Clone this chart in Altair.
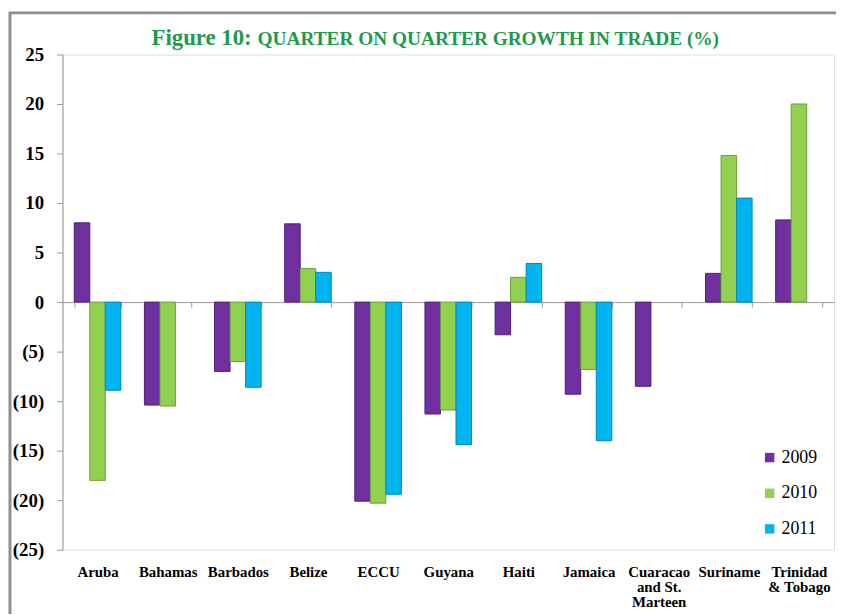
import altair as alt
import pandas as pd

categories = ["Aruba", "Bahamas", "Barbados", "Belize", "ECCU", "Guyana", "Haiti",
              "Jamaica", "Cuaracao and St. Marteen", "Suriname", "Trinidad & Tobago"]
years = ["2009", "2010", "2011"]
v2009 = [8.0, -10.4, -7.0, 7.9, -20.1, -11.3, -3.3, -9.3, -8.5, 2.9, 8.3]
v2010 = [-18.0, -10.5, -6.0, 3.4, -20.3, -10.9, 2.5, -6.8, None, 14.8, 20.0]
v2011 = [-8.9, None, -8.6, 3.0, -19.4, -14.4, 3.9, -14.0, None, 10.5, None]
y_ticks = [-25, -20, -15, -10, -5, 0, 5, 10, 15, 20, 25]
title_lead = "Figure 10:"
title_rest = "QUARTER ON QUARTER GROWTH IN TRADE (%)"

colors = ["#7030A0", "#92D050", "#00B4F0"]
strokes = ["#4f1f75", "#6f9e3a", "#0088b8"]

rows = []
for yr, vals in zip(years, [v2009, v2010, v2011]):
    for c, v in zip(categories, vals):
        if v is not None:
            rows.append({"country": c, "year": yr, "value": v})
df = pd.DataFrame(rows)

FONT = "Liberation Serif"
W, H = 779, 500

label_expr = (
    "datum.label == 'Cuaracao and St. Marteen' ? ['Cuaracao', 'and St.', 'Marteen'] : "
    "datum.label == 'Trinidad & Tobago' ? ['Trinidad', '& Tobago'] : datum.label"
)

bars = alt.Chart(df).mark_bar(strokeWidth=1).encode(
    x=alt.X("country:N", sort=categories,
            scale=alt.Scale(paddingInner=0.336, paddingOuter=0.168),
            axis=alt.Axis(title=None, orient="bottom", offset=-H / 2,
                          domainColor="#9a9a9a", tickColor="#9a9a9a",
                          tickSize=5, tickBand="extent", labelAngle=0,
                          labelPadding=260, labelFont=FONT, labelFontSize=15,
                          labelFontWeight="bold", labelColor="#000000",
                          labelLineHeight=15, labelExpr=label_expr,
                          labelBaseline="top")),
    xOffset=alt.XOffset("year:N", scale=alt.Scale(domain=years, paddingInner=0, paddingOuter=0)),
    y=alt.Y("value:Q", scale=alt.Scale(domain=[-25, 25], nice=False),
            axis=alt.Axis(title=None, values=y_ticks, grid=False,
                          domainColor="#9a9a9a", tickColor="#9a9a9a", tickSize=6,
                          labelPadding=13, labelFont=FONT, labelFontSize=19,
                          labelFontWeight="bold", labelColor="#000000",
                          labelExpr="datum.value < 0 ? '(' + abs(datum.value) + ')' : '' + datum.value")),
    color=alt.Color("year:N", scale=alt.Scale(domain=years, range=colors),
                    legend=alt.Legend(title=None, orient="none", legendX=705, legendY=398,
                                      direction="vertical", symbolType="square",
                                      symbolSize=90, symbolStrokeWidth=0,
                                      labelFont=FONT, labelFontSize=18,
                                      labelColor="#000000", labelOffset=3,
                                      rowPadding=18, padding=0)),
    stroke=alt.Stroke("year:N", scale=alt.Scale(domain=years, range=strokes), legend=None),
)

one = alt.Data(values=[{}])

frame = alt.Chart(one).mark_rect(fill=None, stroke="#8f8f8f", strokeWidth=3).encode(
    x=alt.value(-53), x2=alt.value(W + 30), y=alt.value(-42), y2=alt.value(H + 80)
)

t1 = alt.Chart(one).mark_text(
    text=title_lead, align="right", baseline="alphabetic", font=FONT,
    fontSize=23, fontWeight="bold", color="#1E9A4C"
).encode(x=alt.value(191), y=alt.value(-10))

t2 = alt.Chart(one).mark_text(
    text=title_rest, align="left", baseline="alphabetic", font=FONT,
    fontSize=19.5, fontWeight="bold", color="#1E9A4C"
).encode(x=alt.value(197), y=alt.value(-10))

chart = alt.layer(frame, bars, t1, t2).properties(
    width=W, height=H,
    autosize=alt.AutoSizeParams(type="none"),
    padding={"left": 55, "top": 44, "right": 2, "bottom": 62},
).configure_view(stroke="#9a9a9a", strokeWidth=1).configure(background="white", font=FONT)

chart.save("out.html", embed_options={"renderer": "svg", "actions": False})
